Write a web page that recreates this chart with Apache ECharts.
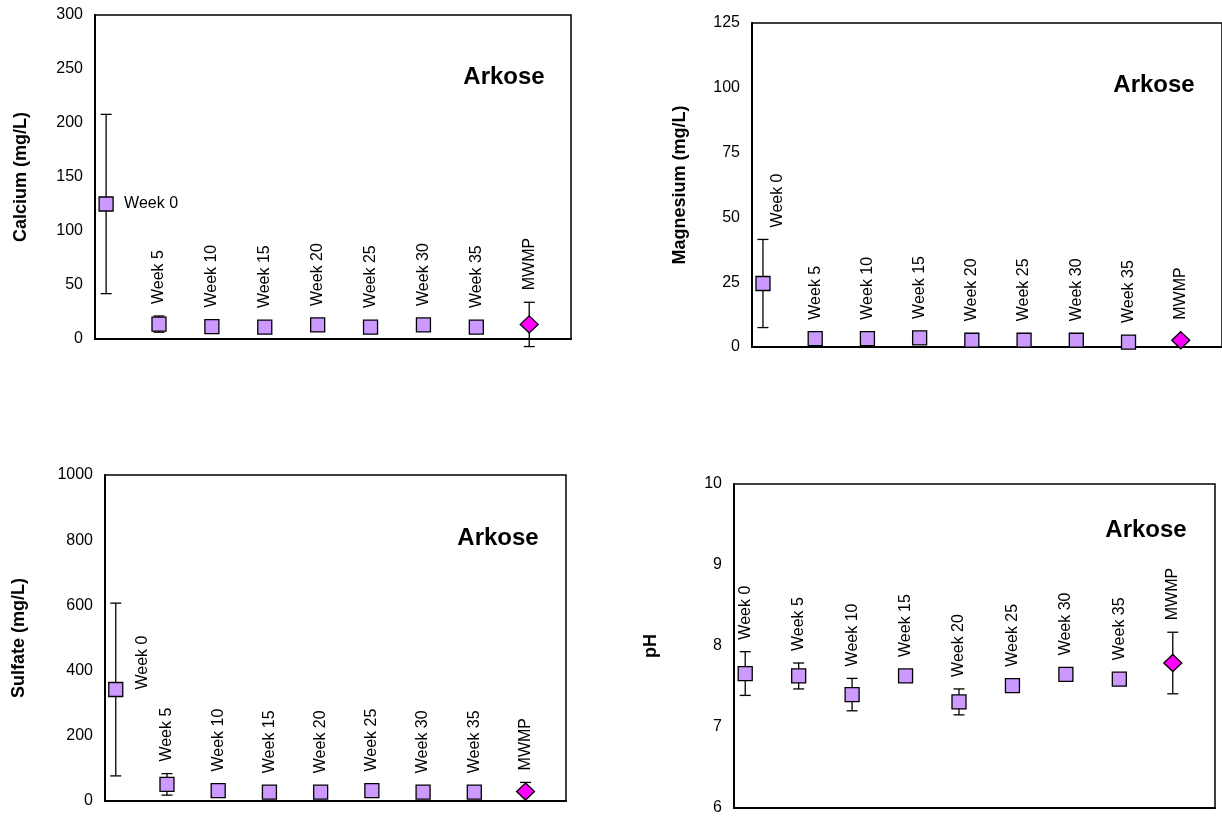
<!DOCTYPE html>
<html>
<head>
<meta charset="utf-8">
<script src="https://cdn.jsdelivr.net/npm/echarts@6/dist/echarts.min.js"></script>
<style>
  html, body { margin: 0; padding: 0; background: #ffffff; }
  #chart { width: 1222px; height: 816px; }
</style>
</head>
<body>
<div id="chart"></div>
<script>
// Sampling points along the leaching test, plus the MWMP reference result
const categories = ['Week 0', 'Week 5', 'Week 10', 'Week 15', 'Week 20', 'Week 25', 'Week 30', 'Week 35', 'MWMP'];

// Mean concentration and +/- error for each sampling point
const calciumMean = [125, 13.8, 11.5, 11, 13, 11, 13, 11, 13.5];
const calciumErr = [83, 7.5, 2, 2, 2, 2, 2, 2, 20.5];

const magnesiumMean = [24.5, 3.2, 3.2, 3.5, 2.6, 2.6, 2.6, 1.9, 2.6];
const magnesiumErr = [17, 1, 1, 1, 0.8, 0.8, 0.8, 0.8, 1];

const sulfateMean = [342, 51, 32, 27, 27, 32, 27, 27, 29];
const sulfateErr = [265, 33, 5, 5, 5, 5, 5, 5, 28];

const phMean = [7.66, 7.63, 7.40, 7.63, 7.31, 7.51, 7.65, 7.59, 7.79];
const phErr = [0.27, 0.16, 0.2, 0.03, 0.16, 0.03, 0.03, 0.05, 0.38];

// Value-axis ranges (tick labels follow from min/max/interval)
const calciumTicks = { min: 0, max: 300, interval: 50 };
const magnesiumTicks = { min: 0, max: 125, interval: 25 };
const sulfateTicks = { min: 0, max: 1000, interval: 200 };
const phTicks = { min: 6, max: 10, interval: 1 };

const rockType = 'Arkose';

const FONT = '"Liberation Sans", Arial, Helvetica, sans-serif';
const SQUARE_FILL = '#CC99FF';
const DIAMOND_FILL = '#FF00FF';

// Panel layout and per-panel label style
const panels = [
  { title: 'Calcium (mg/L)', mean: calciumMean, err: calciumErr, ticks: calciumTicks,
    box: { left: 95, top: 15, width: 476, height: 324 }, nameGap: 65,
    tag: [504, 77], week0: 'right' },
  { title: 'Magnesium (mg/L)', mean: magnesiumMean, err: magnesiumErr, ticks: magnesiumTicks,
    box: { left: 752, top: 23, width: 470, height: 324 }, nameGap: 63,
    tag: [1154, 85], week0: 'shift', week0dx: 15 },
  { title: 'Sulfate (mg/L)', mean: sulfateMean, err: sulfateErr, ticks: sulfateTicks,
    box: { left: 105, top: 475, width: 461, height: 326 }, nameGap: 77,
    tag: [498, 538], week0: 'beside', week0dx: 27 },
  { title: 'pH', mean: phMean, err: phErr, ticks: phTicks,
    box: { left: 734, top: 484, width: 481, height: 327 }, nameGap: 74,
    tag: [1146, 530], week0: 'above' }
];

const grids = [], xAxes = [], yAxes = [], series = [], graphics = [];

function errorBarRenderer(panel) {
  return function (params, api) {
    const i = params.dataIndex;
    const x = api.value(0), m = api.value(1), e = api.value(2);
    const c = api.coord([x, m]);
    const hi = api.coord([x, m + e]);
    const lo = api.coord([x, m - e]);
    const cap = 5.5;
    const st = { stroke: '#000', lineWidth: 1.3 };
    const children = [
      { type: 'line', shape: { x1: c[0], y1: hi[1], x2: c[0], y2: lo[1] }, style: st },
      { type: 'line', shape: { x1: c[0] - cap, y1: hi[1], x2: c[0] + cap, y2: hi[1] }, style: st },
      { type: 'line', shape: { x1: c[0] - cap, y1: lo[1], x2: c[0] + cap, y2: lo[1] }, style: st }
    ];
    // Point label: vertical text starting just above the bar/marker
    const half = i === categories.length - 1 ? 8.5 : 7;
    let lx = c[0];
    let ly = Math.min(hi[1], c[1] - half) - 12;
    let rot = Math.PI / 2;
    if (i === 0 && panel.week0 === 'right') {
      lx = c[0] + 18; ly = c[1]; rot = 0;
    } else if (i === 0 && panel.week0 === 'beside') {
      lx = c[0] + panel.week0dx; ly = c[1];
    } else if (i === 0 && panel.week0 === 'shift') {
      lx = c[0] + panel.week0dx;
    }
    children.push({
      type: 'text', x: lx, y: ly, rotation: rot,
      style: { text: categories[i], fill: '#000', font: '16px ' + FONT, align: 'left', verticalAlign: 'middle' }
    });
    return { type: 'group', children: children };
  };
}

panels.forEach(function (p, k) {
  grids.push(Object.assign({ show: true, borderColor: '#000', borderWidth: 1.5, backgroundColor: '#fff' }, p.box));
  xAxes.push({
    gridIndex: k, type: 'value', min: -0.21, max: 8.79,
    axisLine: { show: true, onZero: false, lineStyle: { color: '#000', width: 2 } },
    axisTick: { show: false }, axisLabel: { show: false }, splitLine: { show: false }
  });
  yAxes.push({
    gridIndex: k, type: 'value', min: p.ticks.min, max: p.ticks.max, interval: p.ticks.interval,
    name: p.title, nameLocation: 'middle', nameGap: p.nameGap,
    nameTextStyle: { fontFamily: FONT, fontWeight: 'bold', fontSize: 18, color: '#000' },
    axisLine: { show: true, onZero: false, lineStyle: { color: '#000', width: 2 } },
    axisTick: { show: false },
    axisLabel: { fontFamily: FONT, fontSize: 16, color: '#000', margin: 12,
      formatter: function (v) { return String(v); } },
    splitLine: { show: false }
  });

  const barData = p.mean.map(function (v, i) { return [i, v, p.err[i]]; });
  series.push({
    type: 'custom', xAxisIndex: k, yAxisIndex: k, clip: false, z: 2,
    renderItem: errorBarRenderer(p), data: barData, silent: true
  });

  const markerData = p.mean.map(function (v, i) {
    const last = i === categories.length - 1;
    return {
      value: [i, v],
      symbol: last ? 'diamond' : 'rect',
      symbolSize: last ? [18, 17] : 14,
      itemStyle: { color: last ? DIAMOND_FILL : SQUARE_FILL, borderColor: '#000', borderWidth: 1.3, opacity: 1 }
    };
  });
  series.push({
    type: 'scatter', xAxisIndex: k, yAxisIndex: k, z: 3, clip: false,
    data: markerData, silent: true
  });

  graphics.push({
    type: 'text', x: p.tag[0], y: p.tag[1], z: 10,
    style: { text: rockType, fill: '#000', font: 'bold 24px ' + FONT, align: 'center', verticalAlign: 'middle' }
  });
});

const chart = echarts.init(document.getElementById('chart'), null, { renderer: 'canvas' });
chart.setOption({
  animation: false,
  backgroundColor: '#ffffff',
  grid: grids,
  xAxis: xAxes,
  yAxis: yAxes,
  series: series,
  graphic: graphics
});
</script>
</body>
</html>
